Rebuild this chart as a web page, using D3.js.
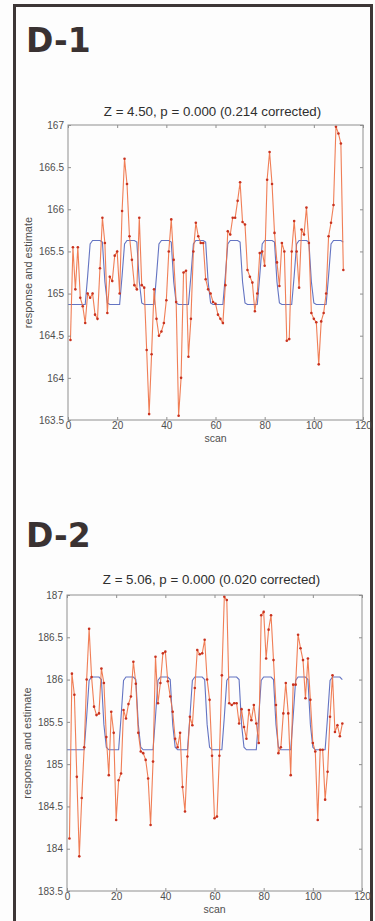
<!DOCTYPE html>
<html>
<head>
<meta charset="utf-8">
<script src="https://cdn.jsdelivr.net/npm/d3@7"></script>
<style>
    html, body { margin: 0; padding: 0; background: #fff; }
    svg { display: block; font-family: "Liberation Sans", Arial, Helvetica, sans-serif; }
</style>
</head>
<body>
<svg id="chart" width="375" height="921"></svg>
<script>
// values (scan 1..112 for the response, 0..112 for the estimate)
const xTicks = [0, 20, 40, 60, 80, 100, 120];
const yTicks1 = [163.5, 164, 164.5, 165, 165.5, 166, 166.5, 167];
const yTicks2 = [183.5, 184, 184.5, 185, 185.5, 186, 186.5, 187];

const response1 = [
    164.45, 165.55, 165.05, 165.55, 164.95, 164.85, 164.65, 165.0, 164.95, 165.0,
    164.75, 164.7, 165.3, 165.9, 165.6, 164.77, 165.2, 165.15, 165.45, 165.5,
    165.0, 165.98, 166.6, 166.3, 165.68, 165.4, 165.1, 165.05, 165.9, 165.1,
    165.07, 164.33, 163.57, 164.28, 165.05, 164.7, 164.5, 164.55, 164.65, 164.92,
    165.5, 165.88, 165.4, 164.9, 163.55, 164.0, 165.25, 165.27, 164.25, 164.7,
    165.5, 165.84, 165.68, 165.6, 165.6, 165.17, 165.05, 165.0, 164.9, 164.88,
    164.75, 164.7, 164.65, 165.1, 165.74, 165.7, 165.9, 165.9, 166.1, 166.32,
    165.85, 165.82, 165.28, 165.2, 165.13, 164.79, 165.0, 165.48, 165.5, 165.33,
    166.35, 166.68, 166.3, 165.72, 165.37, 165.09, 165.6, 165.5, 164.44, 164.46,
    165.5, 165.86, 165.5, 165.07, 165.76, 165.7, 166.02, 165.6, 164.77, 164.7,
    164.66, 164.16, 164.67, 164.77, 165.0, 165.68, 165.84, 166.05, 166.98, 166.9,
    166.78, 165.28
];

const estimate1 = [
    164.87, 164.87, 164.87, 164.87, 164.87, 164.87, 164.87, 164.87,
    165.21, 165.59, 165.63, 165.63, 165.63, 165.63, 165.61, 165.14, 164.89,
    164.87, 164.87, 164.87, 164.87, 164.87,
    165.21, 165.59, 165.63, 165.63, 165.63, 165.63, 165.61, 165.14, 164.89,
    164.87, 164.87, 164.87, 164.87, 164.87,
    165.21, 165.59, 165.63, 165.63, 165.63, 165.63, 165.61, 165.14, 164.89,
    164.87, 164.87, 164.87, 164.87, 164.87,
    165.21, 165.59, 165.63, 165.63, 165.63, 165.63, 165.61, 165.14, 164.89,
    164.87, 164.87, 164.87, 164.87, 164.87,
    165.21, 165.59, 165.63, 165.63, 165.63, 165.63, 165.61, 165.14, 164.89,
    164.87, 164.87, 164.87, 164.87, 164.87,
    165.21, 165.59, 165.63, 165.63, 165.63, 165.63, 165.61, 165.14, 164.89,
    164.87, 164.87, 164.87, 164.87, 164.87,
    165.21, 165.59, 165.63, 165.63, 165.63, 165.63, 165.61, 165.14, 164.89,
    164.87, 164.87, 164.87, 164.87, 164.87,
    165.21, 165.59, 165.63, 165.63, 165.63, 165.63, 165.61
];

const response2 = [
    184.12, 186.07, 185.82, 184.85, 183.91, 184.6, 185.2, 186.0, 186.6, 186.03,
    185.68, 185.58, 185.6, 186.13, 185.96, 185.32, 184.87, 185.62, 185.37, 184.34,
    184.81, 184.89, 185.64, 185.54, 185.71, 185.8, 186.21, 185.95, 185.37, 185.15,
    185.13, 185.05, 184.83, 184.28, 185.03, 186.27, 185.72, 185.96, 186.31, 186.33,
    185.98, 185.8, 185.62, 185.3, 185.2, 185.37, 184.73, 184.44, 185.09, 185.56,
    185.46, 185.9, 186.35, 186.3, 186.31, 186.47, 186.0, 185.76, 185.1, 184.36,
    184.38, 185.1, 186.05, 186.98, 186.94, 185.72, 185.7, 185.72, 185.72, 185.48,
    185.65, 185.44, 185.3, 185.64, 185.52, 185.7, 185.48, 185.25, 186.76, 186.8,
    186.25, 186.59, 186.76, 186.23, 185.7, 185.13, 185.2, 185.6, 185.96, 185.6,
    184.87, 185.94, 185.94, 186.53, 186.37, 186.23, 185.78, 186.25, 185.76, 185.25,
    185.15, 184.34, 185.17, 185.17, 184.58, 184.91, 185.56, 186.05, 185.38, 185.46,
    185.33, 185.48
];

const estimate2 = [
    185.17, 185.17, 185.17, 185.17, 185.17, 185.17, 185.17, 185.17,
    185.56, 185.99, 186.03, 186.03, 186.03, 186.03, 186.0, 185.47, 185.2,
    185.17, 185.17, 185.17, 185.17, 185.17,
    185.56, 185.99, 186.03, 186.03, 186.03, 186.03, 186.0, 185.47, 185.2,
    185.17, 185.17, 185.17, 185.17, 185.17,
    185.56, 185.99, 186.03, 186.03, 186.03, 186.03, 186.0, 185.47, 185.2,
    185.17, 185.17, 185.17, 185.17, 185.17,
    185.56, 185.99, 186.03, 186.03, 186.03, 186.03, 186.0, 185.47, 185.2,
    185.17, 185.17, 185.17, 185.17, 185.17,
    185.56, 185.99, 186.03, 186.03, 186.03, 186.03, 186.0, 185.47, 185.2,
    185.17, 185.17, 185.17, 185.17, 185.17,
    185.56, 185.99, 186.03, 186.03, 186.03, 186.03, 186.0, 185.47, 185.2,
    185.17, 185.17, 185.17, 185.17, 185.17,
    185.56, 185.99, 186.03, 186.03, 186.03, 186.03, 186.0, 185.47, 185.2,
    185.17, 185.17, 185.17, 185.17, 185.17,
    185.56, 185.99, 186.03, 186.03, 186.03, 186.03, 186.0
];

const panels = [
    { label: "D-1", title: "Z = 4.50, p = 0.000 (0.214 corrected)", response: response1, estimate: estimate1,
      yTicks: yTicks1, left: 68, right: 363, top: 125, bottom: 420, headY: 52, titleY: 116 },
    { label: "D-2", title: "Z = 5.06, p = 0.000 (0.020 corrected)", response: response2, estimate: estimate2,
      yTicks: yTicks2, left: 67, right: 362, top: 595, bottom: 891, headY: 547, titleY: 584 }
];

const svg = d3.select("#chart");
const lineColor = "#ee7044";
const dotColor = "#c8321f";
const estColor = "#6474c2";
const axisColor = "#8f8f8f";
const labelColor = "#4f4f4f";

svg.append("rect")
    .attr("width", 375)
    .attr("height", 921)
    .attr("fill", "#fdfdfd");

// outer frame
svg.append("path")
    .attr("d", "M14.5,925 V5.5 H371.5 V925")
    .attr("fill", "none")
    .attr("stroke", "#3d3636")
    .attr("stroke-width", 3);

const drawPanel = (p) => {
    const x = d3.scaleLinear().domain([0, 120]).range([p.left, p.right]);
    const y = d3.scaleLinear()
        .domain([p.yTicks[0], p.yTicks[p.yTicks.length - 1]])
        .range([p.bottom, p.top]);

    const g = svg.append("g");

    g.append("text")
        .attr("x", 26)
        .attr("y", p.headY)
        .attr("fill", "#3a3232")
        .style("font-family", "'DejaVu Sans', 'Liberation Sans', Arial, sans-serif")
        .style("font-size", "33px")
        .style("font-weight", "bold")
        .text(p.label);

    g.append("text")
        .attr("x", (p.left + p.right) / 2 - 3)
        .attr("y", p.titleY)
        .attr("text-anchor", "middle")
        .attr("fill", "#2f2f2f")
        .style("font-size", "13.3px")
        .text(p.title);

    // estimate
    const estLine = d3.line()
        .x((d, i) => x(i))
        .y(d => y(d));

    g.append("path")
        .datum(p.estimate)
        .attr("d", estLine)
        .attr("fill", "none")
        .attr("stroke", estColor)
        .attr("stroke-width", 1.1);

    // response
    const respLine = d3.line()
        .x((d, i) => x(i + 1))
        .y(d => y(d));

    g.append("path")
        .datum(p.response)
        .attr("d", respLine)
        .attr("fill", "none")
        .attr("stroke", lineColor)
        .attr("stroke-width", 1.1)
        .attr("opacity", 0.9);

    g.selectAll("circle.pt")
        .data(p.response)
        .enter()
        .append("circle")
        .attr("class", "pt")
        .attr("cx", (d, i) => x(i + 1))
        .attr("cy", d => y(d))
        .attr("r", 1.3)
        .attr("fill", dotColor);

    // axes, matlab style: box with inward ticks on every side
    const styleAxis = (sel) => {
        sel.select(".domain").remove();
        sel.selectAll(".tick line").attr("stroke", axisColor);
        sel.selectAll(".tick text")
            .attr("fill", labelColor)
            .style("font-size", "10px")
            .style("font-family", "'Liberation Sans', Arial, sans-serif");
    };

    g.append("g")
        .attr("transform", `translate(0,${p.bottom})`)
        .call(d3.axisBottom(x).tickValues(xTicks).tickSize(-3).tickPadding(2).tickFormat(d => d))
        .call(styleAxis);

    g.append("g")
        .attr("transform", `translate(0,${p.top})`)
        .call(d3.axisTop(x).tickValues(xTicks).tickSize(-3).tickFormat(""))
        .call(styleAxis);

    g.append("g")
        .attr("transform", `translate(${p.left},0)`)
        .call(d3.axisLeft(y).tickValues(p.yTicks).tickSize(-3).tickPadding(4).tickFormat(d => d))
        .call(styleAxis);

    g.append("g")
        .attr("transform", `translate(${p.right},0)`)
        .call(d3.axisRight(y).tickValues(p.yTicks).tickSize(-3).tickFormat(""))
        .call(styleAxis);

    g.append("rect")
        .attr("x", p.left)
        .attr("y", p.top)
        .attr("width", p.right - p.left)
        .attr("height", p.bottom - p.top)
        .attr("fill", "none")
        .attr("stroke", axisColor)
        .attr("stroke-width", 1);

    g.append("text")
        .attr("x", (p.left + p.right) / 2)
        .attr("y", p.bottom + 21.5)
        .attr("text-anchor", "middle")
        .attr("fill", labelColor)
        .style("font-size", "10.5px")
        .text("scan");

    g.append("text")
        .attr("transform", `translate(${p.left - 36},${(p.top + p.bottom) / 2}) rotate(-90)`)
        .attr("text-anchor", "middle")
        .attr("fill", labelColor)
        .style("font-size", "11px")
        .text("response and estimate");
};

panels.forEach(drawPanel);
</script>
</body>
</html>
